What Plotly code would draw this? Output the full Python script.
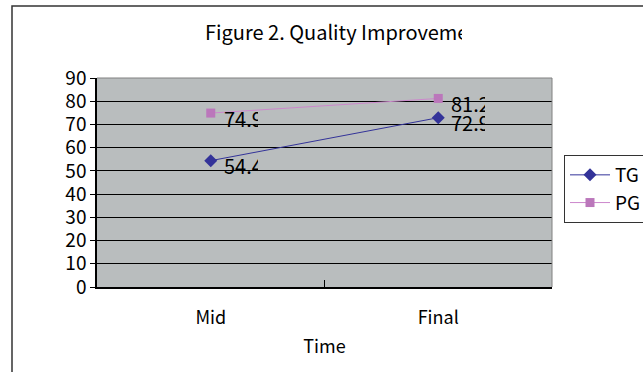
import plotly.graph_objects as go

categories = ["Mid", "Final"]
tg_values = [54.4, 72.9]
pg_values = [74.9, 81.2]
series_names = ["TG", "PG"]
y_ticks = [0, 10, 20, 30, 40, 50, 60, 70, 80, 90]
title_text = "Figure 2. Quality Improvement"
x_title = "Time"

FONT = "Noto Sans CJK JP"
W, H = 643, 372
L, R, T, B = 97, 91, 78, 85
pw, ph = W - L - R, H - T - B

fig = go.Figure()
fig.add_trace(go.Scatter(
    x=categories, y=tg_values, name=series_names[0], mode="lines+markers",
    line=dict(color="#333399", width=1),
    marker=dict(symbol="diamond", size=10, color="#333399"),
))
fig.add_trace(go.Scatter(
    x=categories, y=pg_values, name=series_names[1], mode="lines+markers",
    line=dict(color="#CC88CC", width=1),
    marker=dict(symbol="square", size=9, color="#BB77BB"),
))

annotations = []
for vals in (tg_values, pg_values):
    for c, v in zip(categories, vals):
        annotations.append(dict(
            x=c, y=v, xref="x", yref="y", text=f"{v}", showarrow=False,
            xanchor="left", yanchor="middle", xshift=11, yshift=-5,
            width=34, align="left",
            font=dict(family=FONT, size=20, color="black"),
        ))


def px(xp):
    return (xp - L) / pw


def py(yp):
    return (H - B - yp) / ph


annotations.append(dict(
    x=px(203), y=py(31), xref="paper", yref="paper", text=title_text,
    showarrow=False, xanchor="left", yanchor="middle", width=257, align="left",
    font=dict(family=FONT, size=20, color="black"),
))

shapes = [
    dict(type="path", xref="paper", yref="paper",
         path=f"M {px(12)},{py(390)} L {px(12)},{py(6)} L {px(660)},{py(6)}",
         line=dict(color="#333333", width=1.5)),
    dict(type="path", xref="paper", yref="paper", layer="above",
         path="M 0,1 L 1,1 L 1,0",
         line=dict(color="#808080", width=1)),
]

fig.update_layout(
    width=W, height=H,
    margin=dict(l=L, r=R, t=T, b=B, autoexpand=False),
    paper_bgcolor="white", plot_bgcolor="#B9BDBE",
    font=dict(family=FONT, size=19, color="black"),
    showlegend=True,
    legend=dict(x=px(564), y=py(155), xanchor="left", yanchor="top",
                bgcolor="white", bordercolor="#333333", borderwidth=1,
                font=dict(family=FONT, size=19), tracegroupgap=0,
                itemwidth=40),
    annotations=annotations, shapes=shapes,
    xaxis=dict(type="category", range=[-0.5, 1.5], tickson="boundaries",
               ticks="inside", ticklen=7, tickcolor="black",
               showline=True, linecolor="black", linewidth=1.5,
               showgrid=False, tickfont=dict(family=FONT, size=18),
               ticklabelstandoff=14,
               title=dict(text=x_title, font=dict(family=FONT, size=18), standoff=12)),
    yaxis=dict(range=[0, 90], tickvals=y_ticks, ticks="outside", ticklen=5,
               tickcolor="black", showline=True, linecolor="black", linewidth=1.5,
               showgrid=True, gridcolor="black", gridwidth=1, zeroline=False,
               tickfont=dict(family=FONT, size=19)),
)

fig.write_html("out.html", config={"displayModeBar": False},
               post_script="document.body.style.margin='0';")
